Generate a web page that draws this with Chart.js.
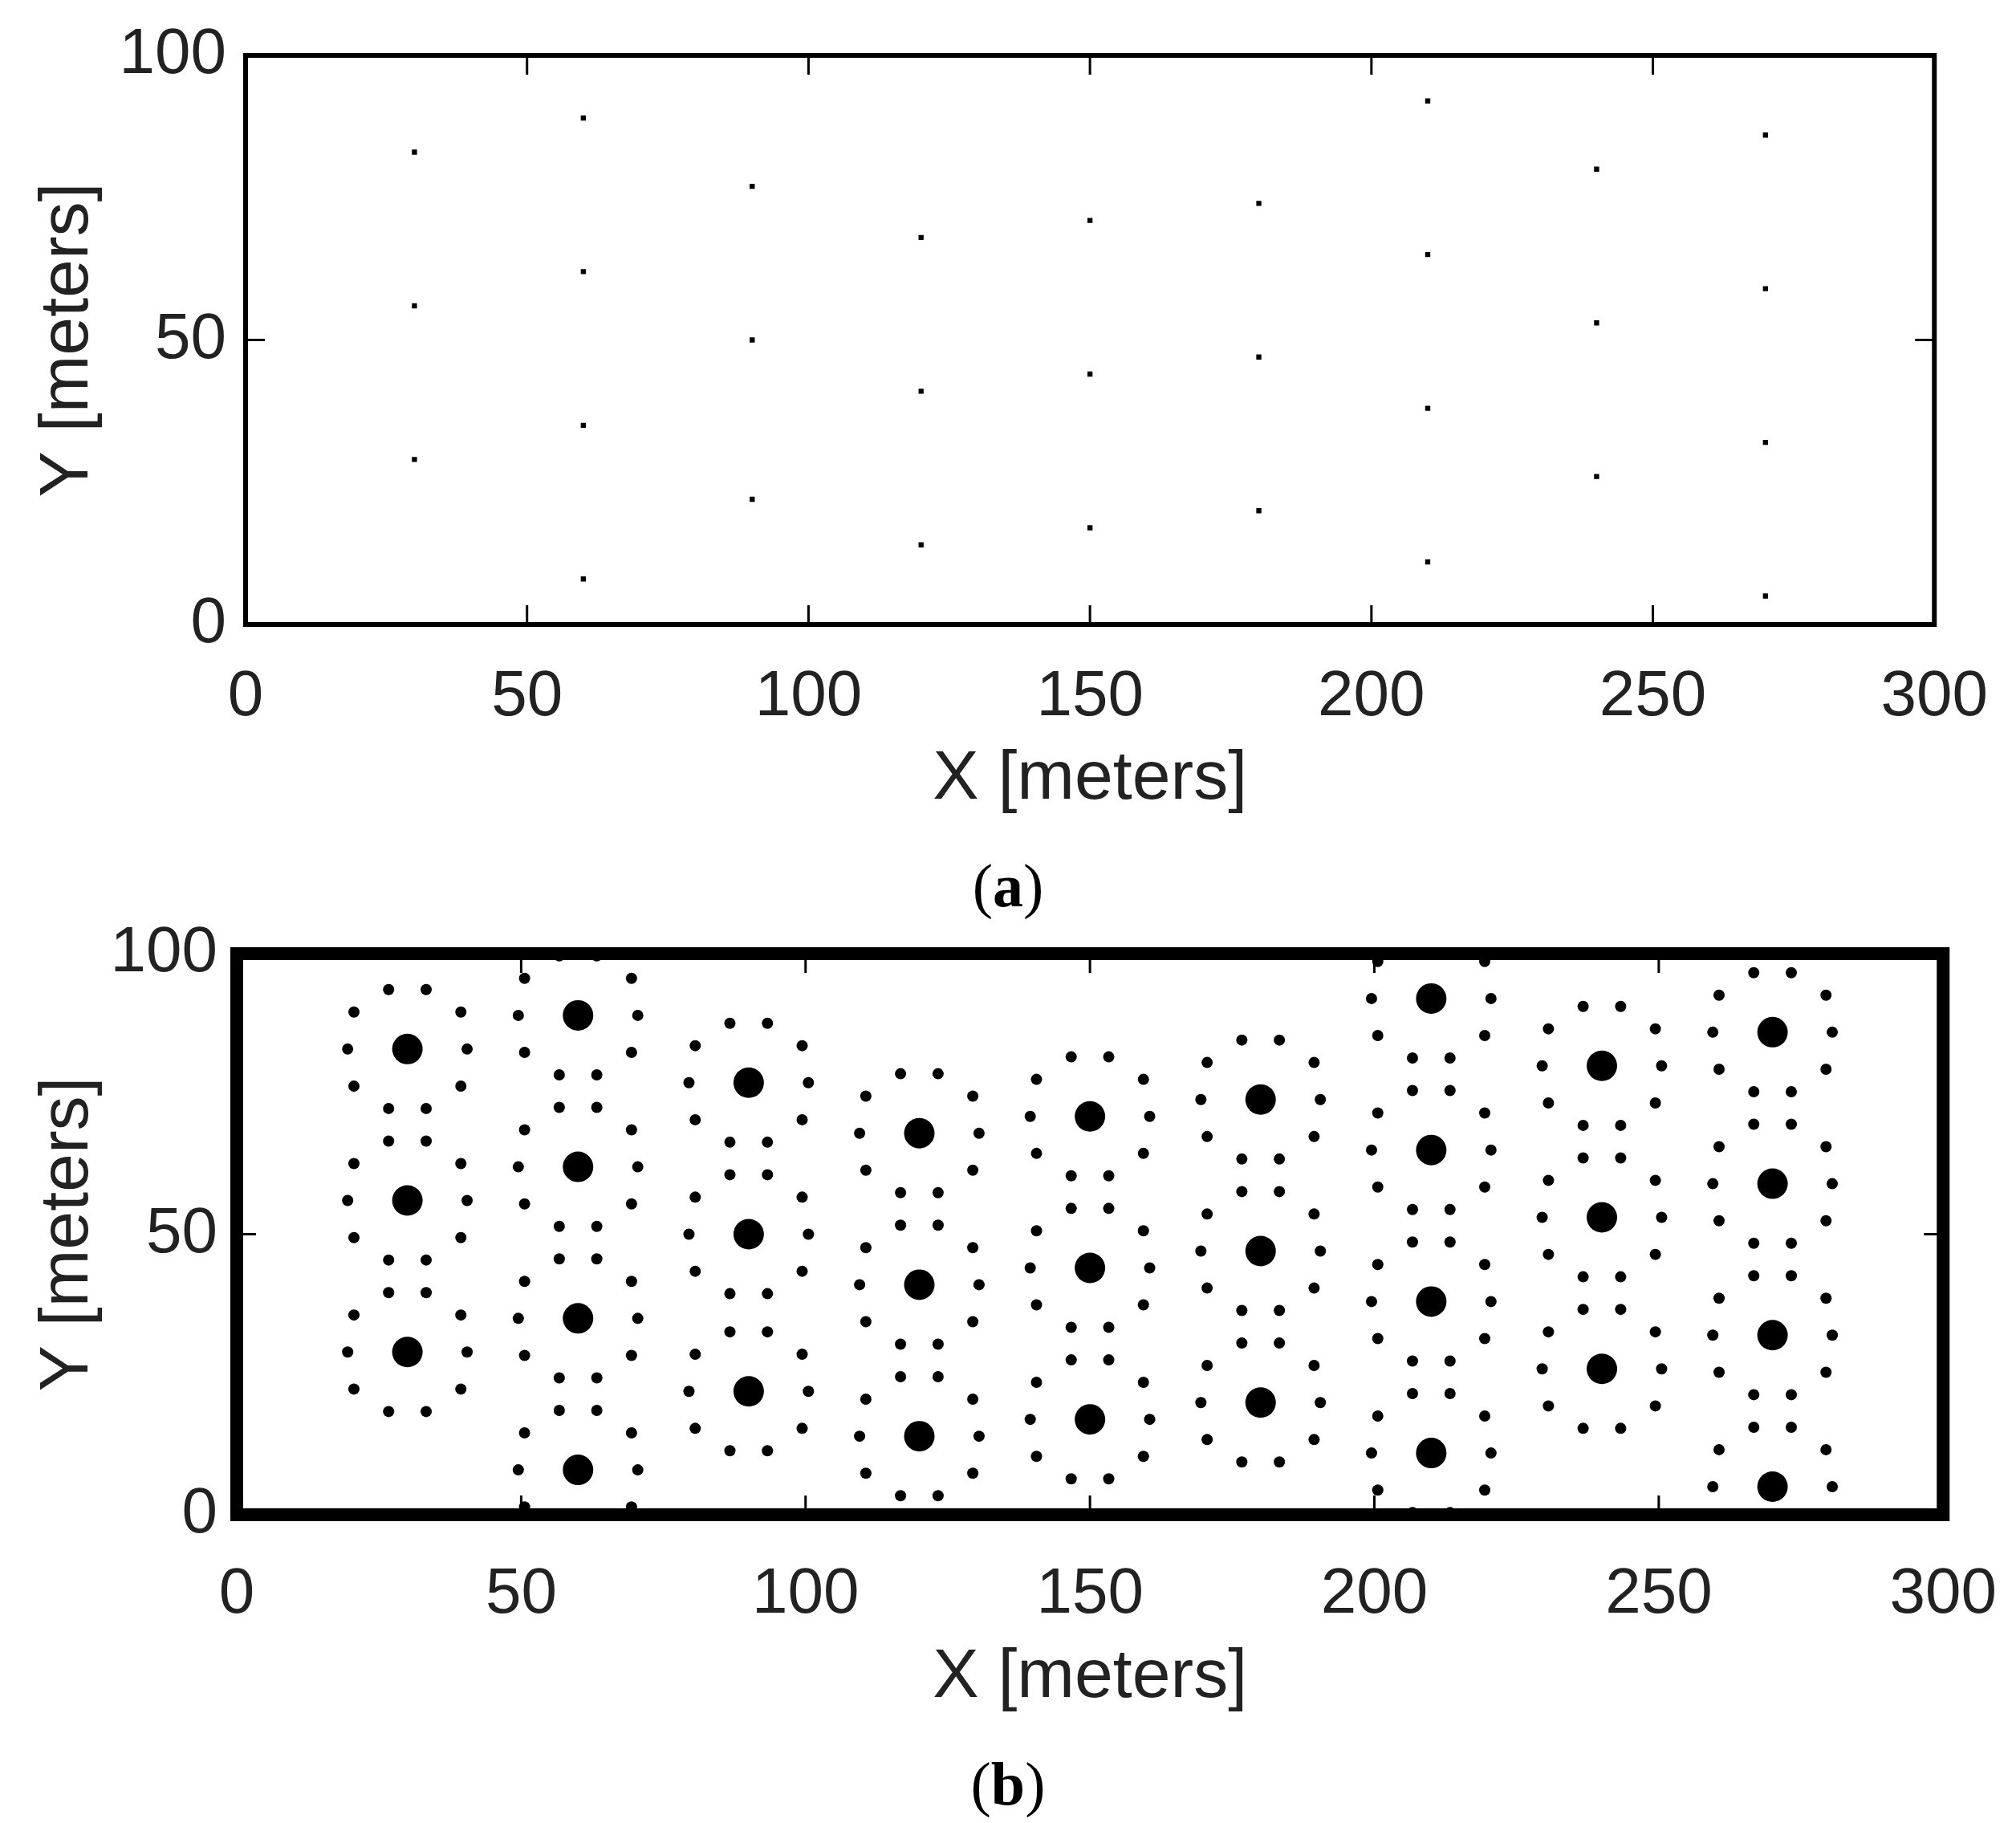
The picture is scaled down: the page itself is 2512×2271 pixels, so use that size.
<!DOCTYPE html>
<html><head><meta charset="utf-8">
<script src="https://cdn.jsdelivr.net/npm/chart.js@4/dist/chart.umd.min.js"></script>
<style>
body{margin:0;background:#fff;width:2512px;height:2271px;position:relative;overflow:hidden}
.c{position:absolute;left:0}
.cap{position:absolute;width:2512px;left:0;text-align:center;font:76px "Liberation Serif",serif;line-height:90px}
</style></head><body>
<div class="c" style="top:0;width:2512px;height:1027px"><canvas id="ca"></canvas></div>
<div class="c" style="top:1110px;width:2532px;height:1036px"><canvas id="cb"></canvas></div>
<div class="cap" style="top:1058px">(<b>a</b>)</div>
<div class="cap" style="top:2177px">(<b>b</b>)</div>
<script>
// posiciones de nodos (columnas x, valores y por columna)
const colX = [30, 60, 90, 120, 150, 180, 210, 240, 270];
const colY = [
  [83, 56, 29],
  [89, 62, 35, 8],
  [77, 50, 22],
  [68, 41, 14],
  [71, 44, 17],
  [74, 47, 20],
  [92, 65, 38, 11],
  [80, 53, 26],
  [86, 59, 32, 5]
];
// desplazamientos del anillo de puntos alrededor de cada nodo (metros)
const ringDx = [10.5, 9.4, 3.3, -3.3, -9.4, -10.5, -9.4, -3.3, 3.3, 9.4];
const ringDy = [0, 6.6, 10.6, 10.6, 6.6, 0, -6.6, -10.6, -10.6, -6.6];
const xTicks = [0, 50, 100, 150, 200, 250, 300];
const yTicks = [0, 50, 100];

const centers = [];
colX.forEach((x, i) => colY[i].forEach(y => centers.push({x, y})));
const ring = [];
centers.forEach(c => ringDx.forEach((dx, k) => ring.push({x: c.x + dx, y: c.y + ringDy[k]})));

const FONT = '"Liberation Sans", Arial, sans-serif';

function frame(lw, tl) {
  return {
    id: 'frame',
    afterDraw(ch) {
      const a = ch.chartArea, g = ch.ctx, sx = ch.scales.x, sy = ch.scales.y;
      g.save();
      g.strokeStyle = '#000';
      g.lineWidth = 3;
      g.beginPath();
      xTicks.forEach(v => {
        const p = sx.getPixelForValue(v);
        g.moveTo(p, a.bottom); g.lineTo(p, a.bottom - tl);
        g.moveTo(p, a.top); g.lineTo(p, a.top + tl);
      });
      yTicks.forEach(v => {
        const p = sy.getPixelForValue(v);
        g.moveTo(a.left, p); g.lineTo(a.left + tl, p);
        g.moveTo(a.right, p); g.lineTo(a.right - tl, p);
      });
      g.stroke();
      g.lineWidth = lw;
      g.strokeRect(a.left, a.top, a.right - a.left, a.bottom - a.top);
      g.restore();
    }
  };
}

function makeChart(id, datasets, top, right, yW, xH, tickPad, lw) {
  new Chart(document.getElementById(id), {
    type: 'scatter',
    data: { datasets },
    options: {
      responsive: true, maintainAspectRatio: false, animation: false,
      layout: { padding: { top, right, left: 30, bottom: 0 } },
      plugins: { legend: { display: false }, tooltip: { enabled: false } },
      scales: {
        x: {
          min: 0, max: 300,
          afterFit: s => { s.height = xH; },
          afterBuildTicks: s => { s.ticks = xTicks.map(v => ({value: v})); },
          grid: { display: false }, border: { display: false },
          ticks: { color: '#222', font: { family: FONT, size: 80 }, padding: tickPad, maxRotation: 0 },
          title: { display: true, text: 'X [meters]', color: '#222', font: { family: FONT, size: 86 }, padding: { top: 0 } }
        },
        y: {
          min: 0, max: 100,
          afterFit: s => { s.width = yW; },
          afterBuildTicks: s => { s.ticks = yTicks.map(v => ({value: v})); },
          grid: { display: false }, border: { display: false },
          ticks: { color: '#222', font: { family: FONT, size: 80 }, padding: 16 },
          title: { display: true, text: 'Y [meters]', color: '#222', font: { family: FONT, size: 86 }, padding: { bottom: 0 } }
        }
      }
    },
    plugins: [frame(lw, 24)]
  });
}

makeChart('ca', [
  { data: centers, pointStyle: 'rect', pointRadius: 4.5, backgroundColor: '#000', borderWidth: 0, clip: 0 }
], 69, 100, 276, 249, 35, 6);

makeChart('cb', [
  { data: ring, pointStyle: 'circle', pointRadius: 7, backgroundColor: '#000', borderWidth: 0, clip: 0 },
  { data: centers, pointStyle: 'circle', pointRadius: 19, backgroundColor: '#000', borderWidth: 0, clip: 0 }
], 78, 100, 265, 259, 44, 16);
</script>
</body></html>
